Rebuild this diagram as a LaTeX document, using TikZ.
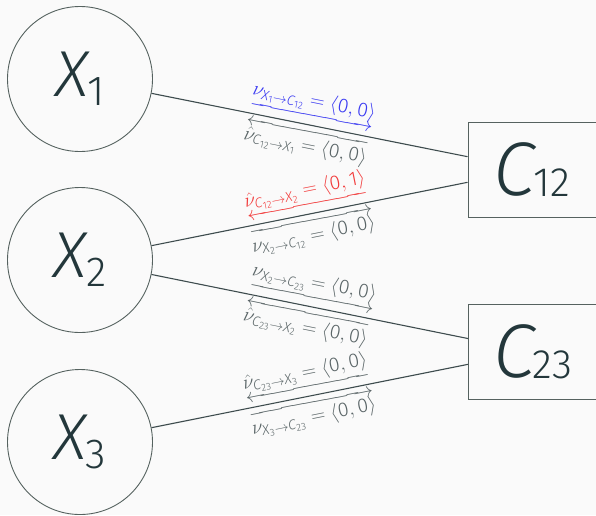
\documentclass[tikz,border=0pt]{standalone}
\usepackage{fix-cm}
\usepackage{amsmath}
\usepackage{fontspec}
\setmainfont{Fira Sans}[UprightFont=* Light, ItalicFont=* Light Italic]
\definecolor{bgc}{HTML}{FAFAFA}
\definecolor{fg}{HTML}{23373B}
\definecolor{edgec}{HTML}{55625F}
\definecolor{linkc}{HTML}{3E4C4E}
\definecolor{msg}{HTML}{5A6567}
\definecolor{mblue}{HTML}{3A3AF2}
\definecolor{mred}{HTML}{F23C3C}
\newcommand{\vx}[1]{\textit{X}_{\text{#1}}}
\newcommand{\fc}[1]{\textit{C}_{\text{#1}}}
\newcommand{\bigvar}[1]{{\fontsize{65}{70}\selectfont\itshape X}\kern-1pt\raisebox{-9pt}{\fontsize{42}{46}\selectfont #1}}
\newcommand{\bigfac}[1]{{\fontsize{76}{80}\selectfont\itshape C}\kern-2pt\raisebox{-1pt}{\fontsize{41}{46}\selectfont #1}}
\begin{document}
\begin{tikzpicture}[x=1pt,y=-1pt,
  var/.style={circle,draw=edgec,line width=0.9pt,minimum size=145pt,inner sep=0pt,text=fg},
  fac/.style={rectangle,draw=edgec,line width=0.9pt,minimum width=128pt,minimum height=95pt,inner sep=0pt,text=fg},
  link/.style={draw=linkc,line width=1.1pt},
  lbl/.style={sloped,font=\fontsize{20}{24}\selectfont,inner sep=4pt,text=msg}]
\fill[bgc] (0,0) rectangle (596,515);
\useasboundingbox (0,0) rectangle (596,515);
\node[var] (X1) at (80,79) {\bigvar{1}};
\node[var] (X2) at (80,260) {\bigvar{2}};
\node[var] (X3) at (80,442) {\bigvar{3}};
\node[fac] (C12) at (532,169.5) {\bigfac{12}};
\node[fac] (C23) at (532.5,351.5) {\bigfac{23}};
\draw[link] (X1) -- node[lbl,above,text=mblue]{$\underrightarrow{\nu_{\vx{1}\to\fc{12}} = \langle\text{0}, \text{0}\rangle}$}
  node[lbl,below]{$\overleftarrow{\hat{\nu}_{\fc{12}\to\vx{1}} = \langle\text{0}, \text{0}\rangle}$} (C12);
\draw[link] (X2) -- node[lbl,above,text=mred]{$\underleftarrow{\hat{\nu}_{\fc{12}\to\vx{2}} = \langle\text{0}, \text{1}\rangle}$}
  node[lbl,below]{$\overrightarrow{\nu_{\vx{2}\to\fc{12}} = \langle\text{0}, \text{0}\rangle}$} (C12);
\draw[link] (X2) -- node[lbl,above]{$\underrightarrow{\nu_{\vx{2}\to\fc{23}} = \langle\text{0}, \text{0}\rangle}$}
  node[lbl,below]{$\overleftarrow{\hat{\nu}_{\fc{23}\to\vx{2}} = \langle\text{0}, \text{0}\rangle}$} (C23);
\draw[link] (X3) -- node[lbl,above]{$\underleftarrow{\hat{\nu}_{\fc{23}\to\vx{3}} = \langle\text{0}, \text{0}\rangle}$}
  node[lbl,below]{$\overrightarrow{\nu_{\vx{3}\to\fc{23}} = \langle\text{0}, \text{0}\rangle}$} (C23);
\end{tikzpicture}
\end{document}
